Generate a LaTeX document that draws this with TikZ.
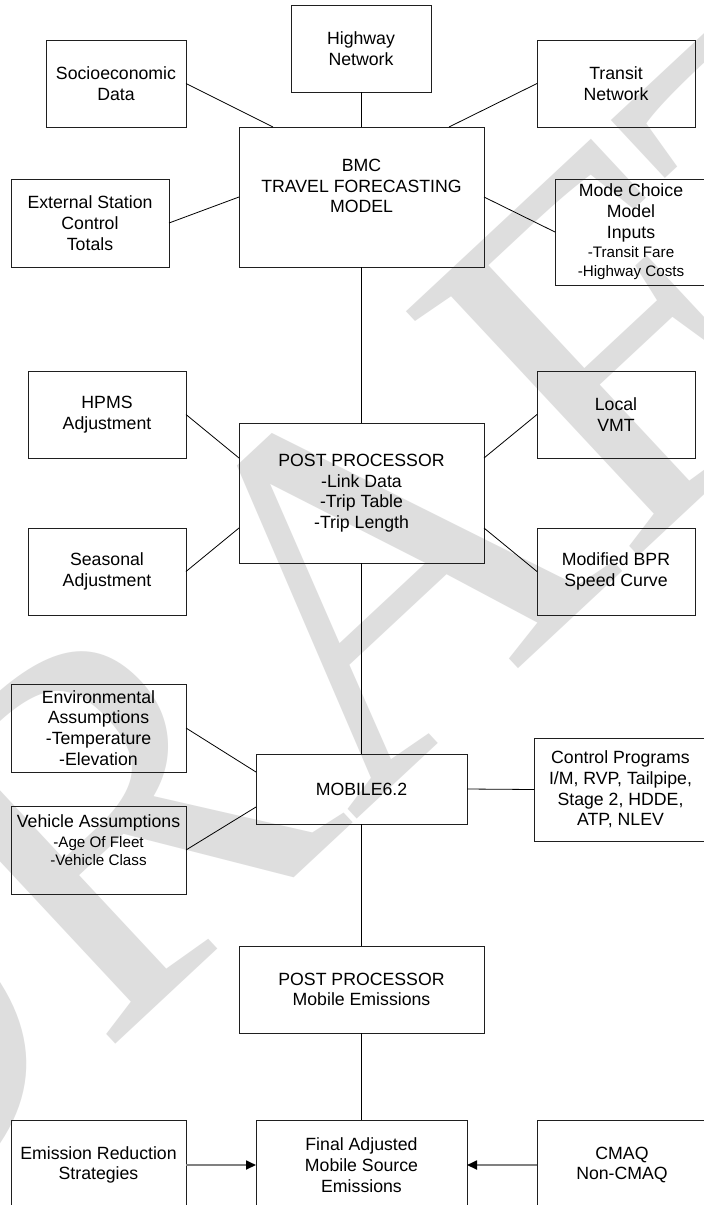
\documentclass[tikz,border=0pt]{standalone}
\usepackage{fontspec}
\setmainfont{Liberation Sans}
\newfontfamily\wmfont{Liberation Serif}
\usetikzlibrary{arrows.meta,calc}
\definecolor{wm}{gray}{0.87}
\definecolor{bx}{gray}{0.12}
\definecolor{arr}{gray}{0.5}
\newcommand\mfnt{\fontsize{17.7}{20.7}\selectfont}
\newcommand\smfnt{\fontsize{15.2}{18.5}\selectfont}
\newcommand\bx[6]{\node[box, minimum width={#4-#2}, minimum height={#5-#3}] (#1) at ({(#2+#4)/2},{(#3+#5)/2}) {#6};}
\begin{document}
\begin{tikzpicture}[x=1pt,y=-1pt,
  box/.style={draw=bx, line width=1pt, inner sep=0pt, outer sep=0pt, align=center, font=\mfnt},
  lnk/.style={draw=black, line width=0.8pt},
  arw/.style={draw=arr, line width=1.8pt, -{Triangle[length=10pt,width=9pt,color=black]}},
  lbl/.style={align=center, font=\mfnt, inner sep=0pt}]
\useasboundingbox (0,0) rectangle (704,1205);
\clip (0,0) rectangle (704,1205);
\fill[white] (0,0) rectangle (704,1205);
% watermark
\node[rotate=43, anchor=base west, inner sep=0pt, text=wm, font=\wmfont\fontsize{515}{515}\selectfont] (wmark) at (-170,1310) {DRAFT};
% boxes
\bx{hwy}{291}{5}{431}{92}{Highway\\Network}
\bx{soc}{46}{40}{186}{127}{Socioeconomic\\Data}
\bx{trn}{537}{40}{695}{127}{Transit\\Network}
\bx{bmc}{239}{127}{484}{267}{}
\node[lbl] (bmct) at (361.5,186) {BMC\\TRAVEL FORECASTING\\MODEL};
\bx{ext}{11}{179}{169}{267}{External Station\\Control\\Totals}
\bx{mode}{555}{179}{707}{285}{Mode Choice\\Model\\Inputs\\[-1.5pt]{\smfnt -Transit Fare}\\[-1.5pt]{\smfnt -Highway Costs}}
\bx{hpms}{28}{371}{186}{458}{HPMS\\Adjustment}
\bx{vmt}{537}{371}{695}{458}{Local\\VMT}
\bx{pp}{239}{423}{484}{563}{POST PROCESSOR\\-Link Data\\-Trip Table\\-Trip Length}
\bx{seas}{28}{528}{186}{615}{Seasonal\\Adjustment}
\bx{bpr}{537}{528}{695}{615}{Modified BPR\\Speed Curve}
\bx{env}{11}{684}{186}{772}{Environmental\\Assumptions\\-Temperature\\-Elevation}
\bx{mob}{256}{754}{467}{824}{MOBILE6.2}
\bx{ctrl}{534}{738}{707}{841}{Control Programs\\I/M, RVP, Tailpipe,\\Stage 2, HDDE,\\ATP, NLEV}
\bx{veh}{11}{806}{186}{894}{}
\node[lbl] (veht) at (98.5,840) {Vehicle Assumptions\\[-1pt]{\smfnt -Age Of Fleet}\\[-2.5pt]{\smfnt -Vehicle Class}};
\bx{ppm}{239}{946}{484}{1033}{POST PROCESSOR\\Mobile Emissions}
\bx{emi}{11}{1120}{186}{1210}{Emission Reduction\\Strategies}
\bx{fin}{256}{1120}{467}{1210}{Final Adjusted\\Mobile Source\\Emissions}
\bx{cmaq}{537}{1120}{707}{1210}{CMAQ\\Non-CMAQ}
% connectors
\draw[lnk] (soc.east) -- ($(bmc.north west)+(34,0)$);
\draw[lnk] (hwy.south) -- (hwy.south |- bmc.north);
\draw[lnk] (trn.west) -- ($(bmc.north east)+(-35,0)$);
\draw[lnk] (ext.east) -- (bmc.west);
\draw[lnk] (mode.west) -- (bmc.east);
\draw[lnk] (bmc.south) -- (pp.north);
\draw[lnk] (hpms.east) -- ($(pp.north west)+(0,35)$);
\draw[lnk] (vmt.west) -- ($(pp.north east)+(0,35)$);
\draw[lnk] (seas.east) -- ($(pp.south west)+(0,-35)$);
\draw[lnk] (bpr.west) -- ($(pp.south east)+(0,-35)$);
\draw[lnk] (pp.south) -- (mob.north);
\draw[lnk] (env.east) -- ($(mob.north west)+(0,18)$);
\draw[lnk] (veh.east) -- ($(mob.south west)+(0,-17)$);
\draw[lnk] (mob.east) -- (ctrl.west);
\draw[lnk] (mob.south) -- (ppm.north);
\draw[lnk] (ppm.south) -- (fin.north);
\draw[arw] (emi.east) -- (fin.west);
\draw[arw] (cmaq.west) -- (fin.east);
\end{tikzpicture}
\end{document}
